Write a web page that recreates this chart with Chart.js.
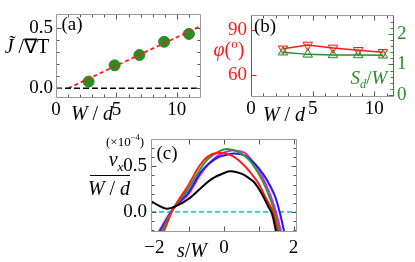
<!DOCTYPE html>
<html><head><meta charset="utf-8">
<script src="https://cdn.jsdelivr.net/npm/chart.js@4"></script>
<style>
html,body{margin:0;padding:0;background:#fff;}
#wrap{position:relative;width:415px;height:262px;overflow:hidden;background:#fff;}
canvas{position:absolute;left:0;top:0;}
.lbl{position:absolute;font-family:'Liberation Serif','Times New Roman',serif;white-space:nowrap;transform:translate(-50%,-50%);line-height:1;color:#000;}
.lbl i{font-style:italic;}
sub,sup{font-size:65%;line-height:0;}
</style></head><body>
<div id="wrap">
<canvas id="ca" width="415" height="262"></canvas>
<canvas id="cb" width="415" height="262"></canvas>
<canvas id="cc" width="415" height="262"></canvas>
<div class="lbl" style="left:27px;top:46px;font-size:20px"><i>J̃</i> /∇T</div>
<div class="lbl" style="left:72px;top:23px;font-size:19px">(a)</div>
<div class="lbl" style="left:92px;top:113px;font-size:20px"><i>W</i> / <i>d</i></div>
<div class="lbl" style="left:229px;top:49px;font-size:20px;color:#ff1a1a"><i>φ</i>(<sup>o</sup>)</div>
<div class="lbl" style="left:265px;top:25px;font-size:19px">(b)</div>
<div class="lbl" style="left:284px;top:114px;font-size:20px"><i>W</i> / <i>d</i></div>
<div class="lbl" style="left:369px;top:77px;font-size:19px;color:#2a8c2a"><i>S</i><sub><i>d</i></sub>/<i>W</i></div>
<div class="lbl" style="left:167px;top:152px;font-size:19px">(c)</div>
<div class="lbl" style="left:125px;top:141px;font-size:13px">(×10<sup>−4</sup>)</div>
<div class="lbl" style="left:116px;top:159px;font-size:20px"><i>v</i><sub><i>x</i></sub></div>
<div style="position:absolute;left:90px;top:175px;width:40px;height:1px;background:#000"></div>
<div class="lbl" style="left:109px;top:188px;font-size:20px"><i>W</i> / <i>d</i></div>
<div class="lbl" style="left:192px;top:250px;font-size:20px"><i>s</i>/<i>W</i></div>
</div>
<script>
// ---------- Panel (a) data ----------
const aWd = [2.7, 4.85, 6.9, 8.95, 11.0];
const aJ = [0.056, 0.19, 0.275, 0.384, 0.449];
const aFitWd = [1.0, 12.0];
const aFitJ = [0.0, 0.515];
const aRefWd = [0, 12];
const aRefJ = [0, 0];
const aXTicks = [0, 5, 10];
const aYTicks = [0.0, 0.5];

// ---------- Panel (b) data ----------
const bWd = [2.6, 4.6, 6.65, 8.7, 10.7];
const bPhi = [77.5, 80.1, 78.1, 76.5, 75.2];
const bSd = [1.40, 1.33, 1.31, 1.31, 1.30];
const bXTicks = [0, 5, 10];
const bPhiTicks = [60, 90];
const bSdTicks = [0, 1, 2];

// ---------- Panel (c) data ----------
const cBlackS = [-2.10, -1.90, -1.65, -1.37, -1.03, -0.70, -0.36, 0.02, 0.21, 0.50, 0.70, 0.88, 1.07, 1.26, 1.38, 1.50];
const cBlackV = [0.12, 0.074, 0.036, 0.066, 0.14, 0.25, 0.36, 0.43, 0.445, 0.42, 0.375, 0.32, 0.21, 0.07, -0.02, -0.22];
const cRedS = [-1.75, -1.44, -1.03, -0.70, -0.46, -0.17, 0.21, 0.50, 0.70, 0.98, 1.22, 1.41, 1.55];
const cRedV = [-0.23, 0.047, 0.29, 0.51, 0.61, 0.65, 0.62, 0.54, 0.46, 0.32, 0.14, 0.0, -0.23];
const cGreenS = [-1.82, -1.44, -1.03, -0.70, -0.46, -0.17, 0.07, 0.40, 0.70, 0.98, 1.22, 1.46, 1.60];
const cGreenV = [-0.23, 0.047, 0.25, 0.46, 0.58, 0.66, 0.69, 0.66, 0.58, 0.43, 0.25, 0.0, -0.23];
const cBlueS = [-1.87, -1.44, -1.03, -0.70, -0.46, -0.17, 0.11, 0.31, 0.59, 0.74, 0.98, 1.22, 1.46, 1.60, 1.74];
const cBlueV = [-0.23, 0.047, 0.21, 0.42, 0.52, 0.60, 0.63, 0.64, 0.62, 0.58, 0.49, 0.36, 0.18, 0.0, -0.23];
const cMagS = [-1.90, -1.44, -1.03, -0.70, -0.46, -0.17, 0.11, 0.31, 0.59, 0.70, 0.98, 1.22, 1.46, 1.65];
const cMagV = [-0.23, 0.047, 0.19, 0.40, 0.52, 0.62, 0.665, 0.675, 0.65, 0.61, 0.47, 0.29, 0.047, -0.23];
const cRefS = [-2.1, 2.1];
const cRefV = [0, 0];
const cXTicks = [-2, 0, 2];
const cYTicks = [0.0, 0.5];

const zip = (xs, ys) => xs.map((x, i) => ({x: x, y: ys[i]}));
const FONT = "'Liberation Serif', 'Times New Roman', serif";
const RED = '#ff1a1a', GREEN = '#2a8c2a';

const framePlugin = {
  id: 'frame',
  afterDatasetsDraw(chart, args, opts) {
    const ctx = chart.ctx, a = chart.chartArea;
    const L = Math.round(a.left) + 0.5, R = Math.round(a.right) - 0.5;
    const T = Math.round(a.top) + 0.5, B = Math.round(a.bottom) - 0.5;
    ctx.save();
    ctx.lineWidth = 1;
    for (const side of ['left', 'right', 'top', 'bottom']) {
      const s = opts[side];
      if (!s) continue;
      const sc = chart.scales[s.scale];
      ctx.strokeStyle = s.tickColor || s.color;
      const groups = [[s.major || [], 5], [s.minor || [], 3]];
      for (const [vals, len] of groups) {
        for (const v of vals) {
          const p = Math.round(sc.getPixelForValue(v)) + 0.5;
          ctx.beginPath();
          if (side === 'left') { ctx.moveTo(L, p); ctx.lineTo(L + len, p); }
          if (side === 'right') { ctx.moveTo(R, p); ctx.lineTo(R - len, p); }
          if (side === 'top') { ctx.moveTo(p, T); ctx.lineTo(p, T + len); }
          if (side === 'bottom') { ctx.moveTo(p, B); ctx.lineTo(p, B - len); }
          ctx.stroke();
        }
      }
      ctx.strokeStyle = s.color;
      ctx.beginPath();
      if (side === 'left') { ctx.moveTo(L, T); ctx.lineTo(L, B); }
      if (side === 'right') { ctx.moveTo(R, T); ctx.lineTo(R, B); }
      if (side === 'top') { ctx.moveTo(L, T); ctx.lineTo(R, T); }
      if (side === 'bottom') { ctx.moveTo(L, B); ctx.lineTo(R, B); }
      ctx.stroke();
    }
    ctx.restore();
  }
};

function fixTicks(list) { return s => { s.ticks = list.map(v => ({value: v})); }; }
const fmt1 = v => (v < 0 ? '−' + Math.abs(v).toFixed(1) : v.toFixed(1));
const fmt0 = v => (v < 0 ? '−' + Math.abs(v) : String(v));
const noGrid = () => ({display: false, drawTicks: false});
const noBorder = () => ({display: false});
const FRAME = '#9a9a9a', TICK = '#555';
const XH = 26;

function baseOptions(box, rightW) {
  return {
    responsive: false, animation: false, events: [],
    layout: {padding: {left: 0, top: box.T, right: 415 - box.R - rightW, bottom: 262 - box.B - XH}},
    plugins: {legend: {display: false}, tooltip: {enabled: false}},
  };
}
const xTickOpts = (pad) => ({font: {family: FONT, size: 19}, color: '#000', padding: pad, maxRotation: 0, minRotation: 0, autoSkip: false, callback: fmt0});

// ---------- Chart (a) ----------
{
  const box = {L: 56, T: 8, R: 201, B: 98};
  const o = baseOptions(box, 0);
  o.plugins.frame = {
    left: {scale: 'y', color: FRAME, tickColor: TICK, major: [0, 0.5], minor: [0.1, 0.2, 0.3, 0.4]},
    right: {scale: 'y', color: FRAME, tickColor: TICK, major: [0, 0.5], minor: [0.1, 0.2, 0.3, 0.4]},
    top: {scale: 'x', color: FRAME, tickColor: TICK, major: [5, 10], minor: [1, 2, 3, 4, 6, 7, 8, 9, 11]},
    bottom: {scale: 'x', color: FRAME, tickColor: TICK, major: [5, 10], minor: [1, 2, 3, 4, 6, 7, 8, 9, 11]},
  };
  o.scales = {
    x: {type: 'linear', min: 0, max: 12, grid: noGrid(), border: noBorder(),
        afterBuildTicks: fixTicks(aXTicks), afterFit: s => { s.height = XH; }, ticks: xTickOpts(1)},
    y: {type: 'linear', min: -0.08, max: 0.61, grid: noGrid(), border: noBorder(),
        afterBuildTicks: fixTicks(aYTicks), afterFit: s => { s.width = box.L; },
        ticks: {font: {family: FONT, size: 19}, color: '#000', padding: 3, callback: fmt1}},
  };
  new Chart(document.getElementById('ca'), {
    type: 'scatter',
    data: {datasets: [
      {data: zip(aRefWd, aRefJ), showLine: true, borderColor: '#000', borderWidth: 1.6, borderDash: [6, 3], pointRadius: 0, clip: 0},
      {data: zip(aFitWd, aFitJ), showLine: true, borderColor: RED, borderWidth: 1.8, borderDash: [4, 3], pointRadius: 0, clip: 0},
      {data: zip(aWd, aJ), pointRadius: 5.5, backgroundColor: '#2e8b22', borderColor: '#2e8b22', borderWidth: 1},
    ]},
    options: o,
    plugins: [framePlugin],
  });
}

// ---------- Chart (b) ----------
{
  const box = {L: 251, T: 7, R: 394, B: 97};
  const RW = 20;
  const o = baseOptions(box, RW);
  o.plugins.frame = {
    left: {scale: 'yL', color: RED, major: [60, 90]},
    right: {scale: 'yR', color: GREEN, major: [0, 1, 2], minor: [0.2, 0.4, 0.6, 0.8, 1.2, 1.4, 1.6, 1.8, 2.2, 2.4]},
    top: {scale: 'x', color: FRAME, tickColor: TICK, major: [5, 10], minor: [1, 2, 3, 4, 6, 7, 8, 9, 11]},
    bottom: {scale: 'x', color: FRAME, tickColor: TICK, major: [5, 10], minor: [1, 2, 3, 4, 6, 7, 8, 9, 11]},
  };
  o.scales = {
    x: {type: 'linear', min: 0, max: 11.6, grid: noGrid(), border: noBorder(),
        afterBuildTicks: fixTicks(bXTicks), afterFit: s => { s.height = XH; }, ticks: xTickOpts(1)},
    yL: {type: 'linear', position: 'left', min: 45, max: 100, grid: noGrid(), border: noBorder(),
        afterBuildTicks: fixTicks(bPhiTicks), afterFit: s => { s.width = box.L; },
        ticks: {font: {family: FONT, size: 19}, color: RED, padding: 4, callback: fmt0}},
    yR: {type: 'linear', position: 'right', min: -0.07, max: 2.61, grid: noGrid(), border: noBorder(),
        afterBuildTicks: fixTicks(bSdTicks), afterFit: s => { s.width = RW; },
        ticks: {font: {family: FONT, size: 19}, color: GREEN, padding: 3, callback: fmt0}},
  };
  new Chart(document.getElementById('cb'), {
    type: 'scatter',
    data: {datasets: [
      {data: zip(bWd, bSd), yAxisID: 'yR', showLine: true, borderColor: GREEN, borderWidth: 1.5,
       pointStyle: 'triangle', pointRadius: 5.5, pointBorderColor: GREEN, pointBackgroundColor: 'rgba(42,140,42,0.15)', pointBorderWidth: 1},
      {data: zip(bWd, bPhi), yAxisID: 'yL', showLine: true, borderColor: RED, borderWidth: 1.5,
       pointStyle: 'triangle', rotation: 180, pointRadius: 5.5, pointBorderColor: RED, pointBackgroundColor: 'rgba(255,26,26,0.15)', pointBorderWidth: 1},
    ]},
    options: o,
    plugins: [framePlugin],
  });
}

// ---------- Chart (c) ----------
{
  const box = {L: 151, T: 139, R: 297, B: 232};
  const o = baseOptions(box, 0);
  o.plugins.frame = {
    left: {scale: 'y', color: FRAME, tickColor: TICK, major: [0, 0.5], minor: [-0.2, -0.1, 0.1, 0.2, 0.3, 0.4, 0.6, 0.7]},
    right: {scale: 'y', color: FRAME, tickColor: TICK, major: [0, 0.5], minor: [-0.2, -0.1, 0.1, 0.2, 0.3, 0.4, 0.6, 0.7]},
    top: {scale: 'x', color: FRAME, tickColor: TICK, major: [-1, 0, 1, 2]},
    bottom: {scale: 'x', color: FRAME, tickColor: TICK, major: [-1, 0, 1, 2]},
  };
  const xt = xTickOpts(3);
  xt.display = false;
  o.scales = {
    x: {type: 'linear', min: -2.1, max: 2.1, grid: noGrid(), border: noBorder(),
        afterBuildTicks: fixTicks(cXTicks), afterFit: s => { s.height = XH; }, ticks: xt},
    y: {type: 'linear', min: -0.22, max: 0.80, grid: noGrid(), border: noBorder(),
        afterBuildTicks: fixTicks(cYTicks), afterFit: s => { s.width = box.L; },
        ticks: {font: {family: FONT, size: 19}, color: '#000', padding: 4, callback: fmt1}},
  };
  const curve = (xs, ys, col) => ({data: zip(xs, ys), showLine: true, borderColor: col, borderWidth: 2,
    pointRadius: 0, tension: 0.35, clip: 0});
  const chartC = new Chart(document.getElementById('cc'), {
    type: 'scatter',
    data: {datasets: [
      curve(cBlackS, cBlackV, '#000'),
      curve(cRedS, cRedV, '#ff1a1a'),
      curve(cGreenS, cGreenV, '#2a9a2a'),
      curve(cBlueS, cBlueV, '#1a1aff'),
      curve(cMagS, cMagV, '#ff10ff'),
      {data: zip(cRefS, cRefV), showLine: true, borderColor: '#1ad0e0', borderWidth: 1.8, borderDash: [5, 3], pointRadius: 0, clip: 0},
    ]},
    options: o,
    plugins: [framePlugin],
  });
  // x tick labels of panel (c) placed from the library's own x scale
  const sx = chartC.scales.x;
  const wrap = document.getElementById('wrap');
  for (const v of cXTicks) {
    const d = document.createElement('div');
    d.className = 'lbl';
    d.style.left = sx.getPixelForValue(v) + 'px';
    d.style.top = (chartC.chartArea.bottom + 14) + 'px';
    d.style.fontSize = '19px';
    d.textContent = fmt0(v);
    wrap.appendChild(d);
  }
}
</script>
</body></html>
